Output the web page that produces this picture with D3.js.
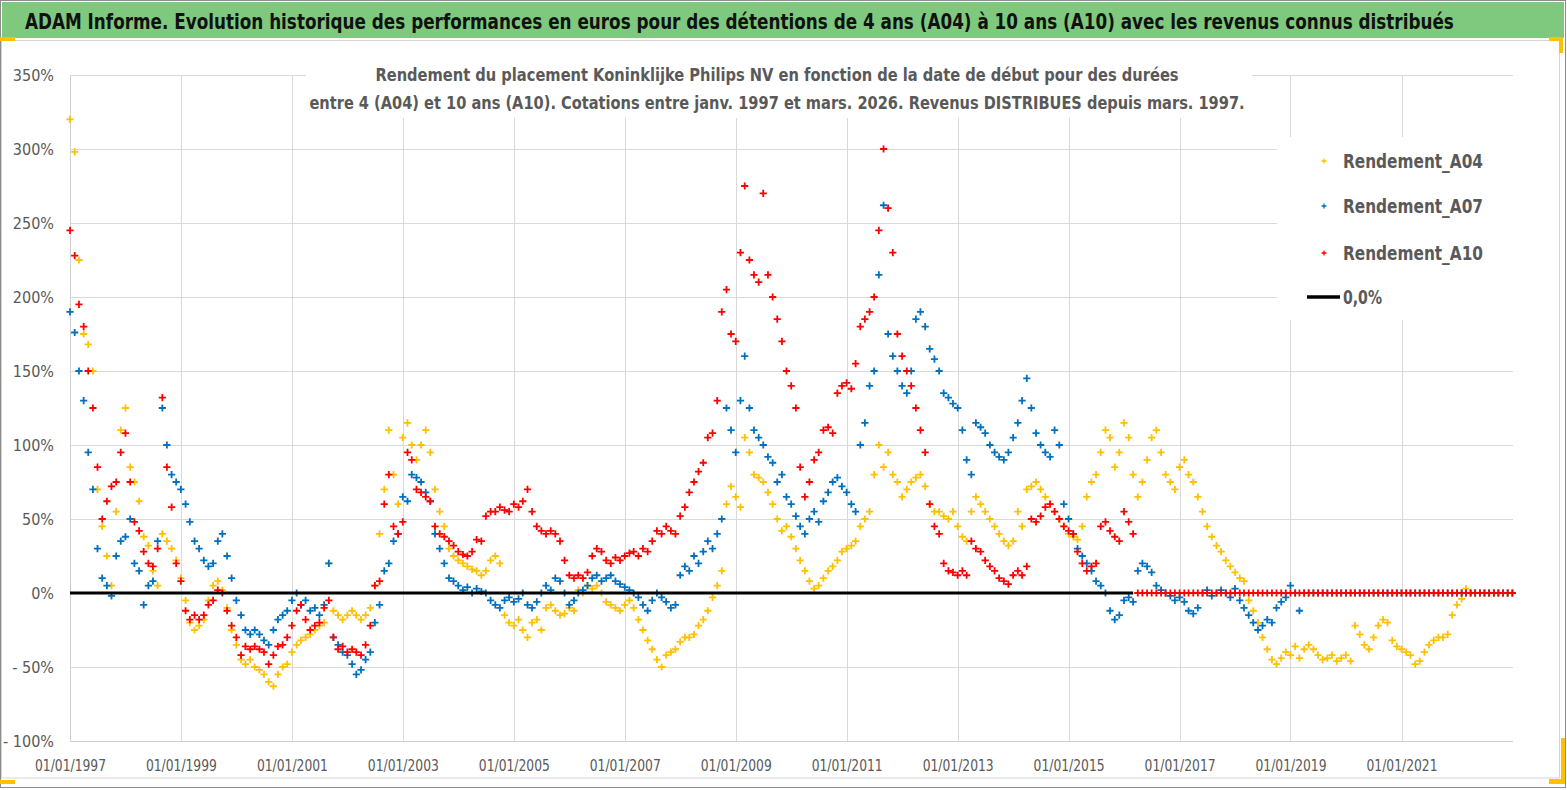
<!DOCTYPE html>
<html>
<head>
<meta charset="utf-8">
<script src="https://cdn.jsdelivr.net/npm/d3@7"></script>
<style>
  html, body { margin: 0; padding: 0; background: #fff; }
  svg { display: block; }
</style>
</head>
<body>
<div id="chart"></div>
<script>
const titleText = "ADAM Informe. Evolution historique des performances en euros pour des détentions de 4 ans (A04) à 10 ans (A10) avec les revenus connus distribués";
const subtitleLines = [
  "Rendement du placement Koninklijke Philips NV  en fonction de la date de début pour des durées",
  "entre 4 (A04) et 10 ans (A10). Cotations entre janv. 1997 et mars. 2026. Revenus DISTRIBUES depuis mars. 1997."
];
const seriesNames = ["Rendement_A04", "Rendement_A07", "Rendement_A10"];
const zeroLabel = "0,0%";

// one value per month, first value = janv. 1997 (in %)
const firstMonth = "1997-01-01";
const a04 = [
  320, 298, 225, 175, 168, 150, 70, 45, 25, 5,
  55, 110, 125, 85, 75, 62, 38, 32, 15, 5,
  40, 35, 30, 22, 10, -5, -20, -25, -22, -18,
  -5, 5, 8, 2, -10, -25, -35, -45, -48, -45,
  -50, -52, -55, -60, -63, -55, -50, -48, -40, -35,
  -32, -30, -28, -25, -22, -20, 20, -12, -15, -18,
  -15, -12, -15, -18, -15, -10, 5, 40, 70, 110,
  80, 60, 105, 115, 100, 90, 100, 110, 95, 70,
  55, 45, 30, 25, 22, 20, 18, 16, 15, 12,
  15, 22, 25, 20, -15, -20, -22, -18, -25, -30,
  -20, -18, -25, -10, -8, -12, -15, -14, -10, -12,
  2, 0, 5, 3, 5, 0, -6, -8, -10, -12,
  -8, -5, -10, -18, -25, -32, -38, -45, -50, -42,
  -40, -38, -33, -30, -30, -28, -22, -18, -12, -3,
  5, 15, 60, 72, 65, 58, 105, 95, 80, 78,
  75, 68, 60, 50, 42, 45, 38, 30, 22, 15,
  8, 3, 5, 10, 15, 18, 22, 28, 30, 32,
  35, 45, 50, 55, 80, 100, 85, 95, 80, 75,
  65, 70, 75, 78, 80, 72, 60, 55, 55, 52,
  50, 55, 45, 38, 35, 55, 65, 60, 55, 50,
  45, 40, 35, 32, 35, 55, 45, 70, 72, 75,
  70, 65, 60, 55, 50, 45, 40, 38, 36, 45,
  65, 75, 80, 95, 110, 105, 85, 95, 115, 105,
  80, 65, 75, 90, 105, 110, 95, 80, 75, 70,
  85, 90, 80, 75, 65, 55, 45, 38, 32, 28,
  22, 18, 14, 10, 8, -5, -12, -20, -30, -38,
  -45, -48, -44, -40, -42, -36, -44, -38, -35, -38,
  -42, -45, -44, -42, -46, -44, -42, -46, -22, -28,
  -35, -38, -30, -22, -18, -20, -32, -36, -38, -40,
  -42, -48, -46, -40, -35, -32, -30, -30, -28, -15,
  -8, -4, 3, 0, 0, 0, 0, 0, 0, 0,
  0, 0, 0
];
const a07 = [
  190, 176, 150, 130, 95, 70, 30, 10, 5, -2,
  25, 35, 38, 50, 20, 15, -8, 5, 8, 35,
  125, 100, 80, 75, 70, 60, 48, 35, 30, 22,
  18, 20, 35, 40, 25, 10, -5, -15, -25, -28,
  -25, -28, -32, -35, -25, -18, -15, -12, -5, 0,
  -8, -5, -12, -10, -15, -8, 20, -30, -35, -40,
  -42, -48, -55, -52, -45, -40, -20, -8, 15, 20,
  35, 40, 65, 62, 80, 78, 75, 68, 62, 40,
  30, 20, 10, 8, 5, 2, 4, 0, 3, 1,
  0, -5, -8, -10, -5, -3, -6, -4, 0, -8,
  -10, -6, 0, 5, 2, 10, 8, 0, -8, -5,
  0, 2, 5, 10, 12, 8, 10, 12, 8, 6,
  4, 2, 0, -3, -8, -12, -5, 0, -3, -6,
  -10, -8, 12, 18, 15, 25, 20, 28, 35, 30,
  40, 50, 125, 110, 95, 130, 160, 125, 110, 105,
  100, 92, 88, 75, 80, 65, 60, 52, 45, 40,
  50, 55, 48, 62, 68, 75, 78, 72, 68, 60,
  55, 100, 115, 140, 150, 215, 262, 175, 160, 150,
  140, 135, 150, 185, 190, 180, 165, 158, 150, 135,
  132, 128, 125, 110, 90, 80, 115, 112, 108, 100,
  95, 92, 90, 95, 105, 115, 130, 145, 125, 108,
  100, 95, 92, 110, 100, 60, 50, 40, 30, 25,
  20, 15, 8, 5, 0, -12, -18, -15, -5, -3,
  -6, 15, 20, 18, 14, 5, 2, 0, -2, -5,
  -3, -6, -12, -14, -10, 0, 2, -2, 0, 2,
  0, -3, 3, -5, -10, -15, -20, -25, -22, -18,
  -20, -10, -6, -3, 5, 0, -12, 0, 0, 0,
  0, 0, 0, 0, 0, 0, 0, 0, 0, 0,
  0, 0, 0, 0, 0, 0, 0, 0, 0, 0,
  0, 0, 0, 0, 0, 0, 0, 0, 0, 0,
  0, 0, 0, 0, 0, 0, 0, 0, 0, 0,
  0, 0, 0
];
const a10 = [
  245, 228, 195, 180, 150, 125, 85, 50, 62, 72,
  75, 95, 108, 75, 48, 42, 28, 20, 18, 30,
  132, 85, 58, 20, 8, -12, -18, -15, -18, -15,
  -8, -5, 2, 0, -12, -22, -30, -42, -36, -38,
  -36, -38, -40, -48, -42, -36, -35, -30, -22, -12,
  -8, -18, -25, -22, -20, -10, -5, -30, -38, -36,
  -40, -38, -40, -42, -35, -22, 5, 8, 60, 80,
  45, 40, 48, 95, 90, 70, 68, 65, 62, 45,
  40, 38, 35, 32, 28, 26, 25, 28, 36, 35,
  52, 55, 55, 58, 56, 55, 60, 58, 62, 70,
  55, 45, 42, 40, 42, 40, 35, 22, 12, 10,
  12, 10, 14, 25, 30, 28, 22, 20, 24, 22,
  25, 27, 28, 25, 30, 28, 35, 42, 40, 45,
  42, 40, 52, 58, 68, 75, 82, 88, 105, 108,
  130, 190, 205, 175, 170, 230, 275, 225, 215, 210,
  270, 215, 200, 185, 170, 150, 140, 125, 85, 65,
  75, 90, 95, 110, 112, 108, 135, 140, 142, 138,
  155, 180, 185, 190, 200, 245, 300, 260, 230, 175,
  160, 150, 140, 125, 110, 95, 60, 45, 40, 20,
  15, 14, 12, 15, 12, 35, 30, 28, 22, 18,
  15, 10, 8, 6, 12, 15, 12, 18, 50, 48,
  52, 58, 60, 55, 50, 45, 42, 40, 28, 20,
  15, 18, 20, 45, 48, 42, 38, 35, 55, 48,
  40, 0, 0, 0, 0, 0, 0, 0, 0, 0,
  0, 0, 0, 0, 0, 0, 0, 0, 0, 0,
  0, 0, 0, 0, 0, 0, 0, 0, 0, 0,
  0, 0, 0, 0, 0, 0, 0, 0, 0, 0,
  0, 0, 0, 0, 0, 0, 0, 0, 0, 0,
  0, 0, 0, 0, 0, 0, 0, 0, 0, 0,
  0, 0, 0, 0, 0, 0, 0, 0, 0, 0,
  0, 0, 0, 0, 0, 0, 0, 0, 0, 0,
  0, 0, 0
];
const zeroLineDates = ["1997-01-01", "2016-03-01"];

const xDomain = ["1997-01-01", "2023-01-05"];
const tickDates = ["1997-01-01", "1999-01-01", "2001-01-01", "2003-01-01", "2005-01-01", "2007-01-01",
  "2009-01-01", "2011-01-01", "2013-01-01", "2015-01-01", "2017-01-01", "2019-01-01", "2021-01-01"];
const yTicks = [-100, -50, 0, 50, 100, 150, 200, 250, 300, 350];

const colors = ["#FFC000", "#0070C0", "#FF0000"];
const font = "'Liberation Sans Narrow', 'DejaVu Sans Condensed', 'Open Sans', sans-serif";

// squeeze a text horizontally so that it is `w` px wide, anchored at (ax, ay)
const fitText = (text, ax, ay, w, anchor) => {
  const len = text.node().getComputedTextLength();
  const s = Math.min(1, w / len);
  text.attr("x", 0).attr("y", 0)
      .attr("text-anchor", anchor)
      .attr("transform", `translate(${ax},${ay}) scale(${s},1)`);
};

const drawChart = () => {
  const width = 1567;
  const height = 790;
  const left = 70, right = 1513, top = 75, bottom = 741;
  const parse = d3.timeParse("%Y-%m-%d");

  const x = d3.scaleTime()
      .domain(xDomain.map(parse))
      .range([left, right]);

  const y = d3.scaleLinear()
      .domain([-100, 350])
      .range([bottom, top]);

  const svg = d3.select("#chart")
      .append("svg")
      .attr("width", width)
      .attr("height", height)
      .style("font-family", font);

  // frame, green banner, chart area
  svg.append("rect")
      .attr("x", 0.5).attr("y", 0.5)
      .attr("width", 1565).attr("height", 787)
      .attr("fill", "#fff").attr("stroke", "#8c8c8c");

  svg.append("rect")
      .attr("x", 2).attr("y", 2)
      .attr("width", 1562).attr("height", 36)
      .attr("fill", "#7ec97e");

  svg.append("rect")
      .attr("x", 1.5).attr("y", 40.5)
      .attr("width", 1558).attr("height", 737.5)
      .attr("fill", "#fff").attr("stroke", "#d4d4d4");

  const title = svg.append("text")
      .attr("font-size", 22).attr("font-weight", "bold")
      .attr("fill", "#111")
      .text(titleText);
  fitText(title, 25, 29, 1430, "start");

  // yellow corner handles
  const handles = [[0, 37, 15, 4], [1549, 37, 14, 4], [1559, 37, 4, 16],
                   [0, 780, 15, 4], [1561, 738, 4, 46], [1549, 779, 16, 5]];
  svg.selectAll(".handle").data(handles).enter()
      .append("rect")
      .attr("x", d => d[0]).attr("y", d => d[1])
      .attr("width", d => d[2]).attr("height", d => d[3])
      .attr("fill", "#FFC000");

  // gridlines
  svg.append("g").selectAll("line")
      .data(yTicks.filter(v => v > -100))
      .enter().append("line")
      .attr("x1", left).attr("x2", right)
      .attr("y1", d => Math.round(y(d)) + 0.5).attr("y2", d => Math.round(y(d)) + 0.5)
      .attr("stroke", "#d9d9d9");

  svg.append("g").selectAll("line")
      .data(tickDates.slice(1).map(parse))
      .enter().append("line")
      .attr("x1", d => Math.round(x(d)) + 0.5).attr("x2", d => Math.round(x(d)) + 0.5)
      .attr("y1", top).attr("y2", bottom)
      .attr("stroke", "#d9d9d9");

  svg.append("line")
      .attr("x1", left + 0.5).attr("x2", left + 0.5)
      .attr("y1", top).attr("y2", bottom)
      .attr("stroke", "#d0d0d0");
  svg.append("line")
      .attr("x1", left).attr("x2", right)
      .attr("y1", bottom + 0.5).attr("y2", bottom + 0.5)
      .attr("stroke", "#d0d0d0");

  // axes
  const pct = v => v < 0 ? "- " + Math.abs(v) + "%" : v + "%";
  const yAxis = svg.append("g")
      .attr("transform", `translate(${left},0)`)
      .call(d3.axisLeft(y).tickValues(yTicks).tickFormat(pct).tickSize(0).tickPadding(16));
  yAxis.select(".domain").remove();
  yAxis.selectAll("text")
      .attr("font-size", 16).attr("fill", "#595959")
      .style("font-family", font);

  const xAxis = svg.append("g")
      .attr("transform", `translate(0,${bottom})`)
      .call(d3.axisBottom(x).tickValues(tickDates.map(parse))
        .tickFormat(d3.timeFormat("%d/%m/%Y")).tickSize(0));
  xAxis.select(".domain").remove();
  xAxis.selectAll("text")
      .attr("y", 30).attr("dy", 0)
      .attr("font-size", 16).attr("fill", "#595959")
      .attr("textLength", 71).attr("lengthAdjust", "spacingAndGlyphs")
      .style("font-family", font);

  // subtitle box
  svg.append("rect")
      .attr("x", 306).attr("y", 58)
      .attr("width", 946).attr("height", 60)
      .attr("fill", "#fff");
  subtitleLines.forEach((line, i) => {
    const t = svg.append("text")
        .attr("font-size", 18).attr("font-weight", "bold")
        .attr("fill", "#595959")
        .text(line);
    fitText(t, 777, 81 + i * 28, [804, 936][i], "middle");
  });

  // markers
  const start = parse(firstMonth);
  const plus = "M-3.6,0H3.6M0,-3.6V3.6";
  [a04, a07, a10].forEach((values, k) => {
    svg.append("g").selectAll("path")
        .data(values)
        .enter().append("path")
        .attr("d", plus)
        .attr("transform", (v, i) => `translate(${x(d3.timeMonth.offset(start, i))},${y(v)})`)
        .attr("stroke", colors[k])
        .attr("stroke-width", 1.8)
        .attr("fill", "none");
  });

  // 0,0% line
  svg.append("line")
      .attr("x1", x(parse(zeroLineDates[0]))).attr("x2", x(parse(zeroLineDates[1])))
      .attr("y1", y(0)).attr("y2", y(0))
      .attr("stroke", "#000").attr("stroke-width", 3.2);

  // legend
  svg.append("rect")
      .attr("x", 1277).attr("y", 137)
      .attr("width", 238).attr("height", 183)
      .attr("fill", "#fff");
  const legendRows = [161, 206, 253, 297];
  const legend = svg.append("g");
  seriesNames.forEach((name, k) => {
    legend.append("path")
        .attr("d", "M-2.5,0H2.5M0,-2.5V2.5")
        .attr("transform", `translate(1324,${legendRows[k]})`)
        .attr("stroke", colors[k]).attr("stroke-width", 1.3).attr("fill", "none");
    const t = legend.append("text")
        .attr("font-size", 20).attr("font-weight", "bold")
        .attr("fill", "#595959")
        .text(name);
    fitText(t, 1343, legendRows[k] + 7, 140, "start");
  });
  legend.append("line")
      .attr("x1", 1307).attr("x2", 1340)
      .attr("y1", legendRows[3]).attr("y2", legendRows[3])
      .attr("stroke", "#000").attr("stroke-width", 3.5);
  const z = legend.append("text")
      .attr("font-size", 20).attr("font-weight", "bold")
      .attr("fill", "#595959")
      .text(zeroLabel);
  fitText(z, 1343, legendRows[3] + 7, 39, "start");
};

window.onload = drawChart;
</script>
</body>
</html>
